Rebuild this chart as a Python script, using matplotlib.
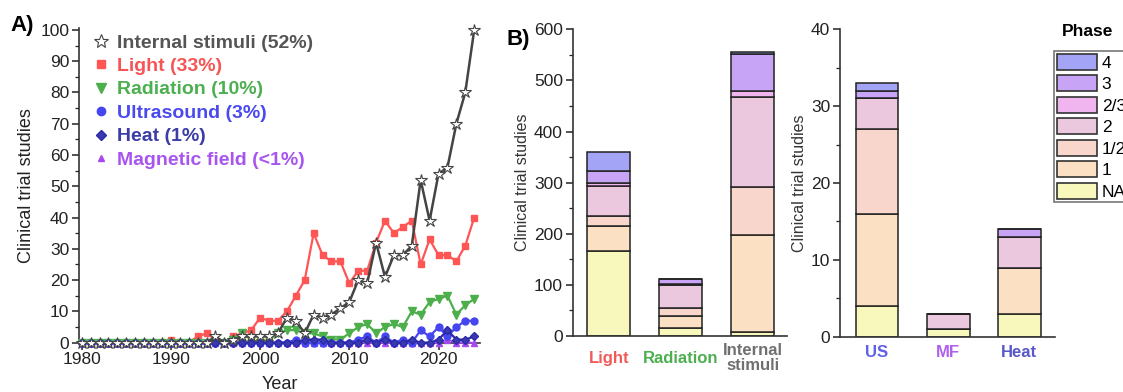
import matplotlib
matplotlib.use("Agg")
import matplotlib.pyplot as plt
from matplotlib.lines import Line2D
from matplotlib.patches import Patch
from matplotlib.ticker import MultipleLocator

plt.rcParams['font.family'] = ['Liberation Sans', 'DejaVu Sans']

# ---------------- data: panel A (yearly counts) ----------------
years = [1980, 1981, 1982, 1983, 1984, 1985, 1986, 1987, 1988, 1989,
         1990, 1991, 1992, 1993, 1994, 1995, 1996, 1997, 1998, 1999,
         2000, 2001, 2002, 2003, 2004, 2005, 2006, 2007, 2008, 2009,
         2010, 2011, 2012, 2013, 2014, 2015, 2016, 2017, 2018, 2019,
         2020, 2021, 2022, 2023, 2024]
internal = [0, 0, 0, 0, 0, 0, 0, 0, 0, 0,
            0, 0, 0, 0, 0, 2, 0, 1, 2, 2,
            2, 2, 3, 8, 7, 3, 9, 8, 9, 11,
            13, 20, 19, 32, 21, 28, 28, 31, 52, 39,
            54, 56, 70, 80, 100]
light = [0, 0, 0, 0, 0, 0, 0, 0, 0, 0,
         1, 0, 0, 2, 3, 1, 0, 2, 3, 4,
         8, 7, 7, 10, 15, 20, 35, 28, 26, 26,
         19, 23, 23, 32, 39, 35, 37, 39, 25, 33,
         28, 28, 26, 31, 40]
radiation = [0, 0, 0, 0, 0, 0, 0, 0, 0, 0,
             0, 0, 0, 0, 0, 0, 0, 1, 3, 1,
             0, 1, 3, 4, 4, 3, 3, 2, 1, 1,
             3, 5, 6, 3, 5, 6, 5, 10, 9, 13,
             14, 15, 9, 12, 14]
ultrasound = [0, 0, 0, 0, 0, 0, 0, 0, 0, 0,
              0, 0, 0, 0, 0, 0, 0, 0, 0, 0,
              0, 0, 0, 0, 1, 0, 0, 0, 0, 0,
              0, 1, 2, 0, 2, 0, 1, 0, 4, 2,
              5, 2, 5, 7, 7]
heat = [0, 0, 0, 0, 0, 0, 0, 0, 0, 0,
        0, 0, 0, 0, 0, 0, 0, 0, 0, 0,
        0, 0, 0, 0, 0, 1, 1, 1, 0, 0,
        0, 0, 1, 0, 1, 0, 0, 1, 0, 0,
        1, 4, 1, 1, 2]
magnetic = [0, 0, 0, 0, 0, 0, 0, 0, 0, 0,
            0, 0, 0, 0, 0, 0, 0, 0, 0, 0,
            0, 0, 0, 0, 0, 0, 0, 0, 0, 0,
            0, 0, 0, 0, 0, 0, 0, 0, 0, 0,
            0, 1, 0, 0, 0]
series_labels = ["Internal stimuli (52%)", "Light (33%)", "Radiation (10%)",
                 "Ultrasound (3%)", "Heat (1%)", "Magnetic field (<1%)"]

# ---------------- data: panel B (phases, stacked) ----------------
phase_labels = ["NA", "1", "1/2", "2", "2/3", "3", "4"]
cats_mid = ["Light", "Radiation", "Internal\nstimuli"]
mid_NA = [167, 16, 7]
mid_P1 = [49, 24, 191]
mid_P12 = [19, 14, 94]
mid_P2 = [59, 45, 176]
mid_P23 = [5, 2, 12]
mid_P3 = [24, 11, 71]
mid_P4 = [36, 0, 5]

cats_right = ["US", "MF", "Heat"]
right_NA = [4, 1, 3]
right_P1 = [12, 0, 6]
right_P12 = [11, 0, 0]
right_P2 = [4, 2, 4]
right_P23 = [0, 0, 0]
right_P3 = [1, 0, 1]
right_P4 = [1, 0, 0]

phase_colors = ["#f8f8bc", "#fce0c4", "#f8d6cc", "#ecc8de", "#f0b4ee", "#c8a4f6", "#a4a4f6"]

W, H = 1123, 392
fig = plt.figure(figsize=(W / 100, H / 100), dpi=100)


def fr(x0, y0, x1, y1):
    return [x0 / W, 1 - y1 / H, (x1 - x0) / W, (y1 - y0) / H]


tick_color = "#222222"
spine_color = "#333333"

# ---------------- Panel A ----------------
axA = fig.add_axes(fr(79, 28, 480, 342.7))
styles = [
    (internal, dict(color="#444444", marker="*", mfc="white", mec="#444444", ms=9, lw=1.8, mew=0.8), "#555555"),
    (light, dict(color="#ff5555", marker="s", mfc="#ff5555", mec="#ff5555", ms=4.5, lw=1.6), "#f55555"),
    (radiation, dict(color="#4caf4c", marker="v", mfc="#4caf4c", mec="#4caf4c", ms=5.5, lw=1.6), "#4caf50"),
    (ultrasound, dict(color="#4646f0", marker="o", mfc="#4646f0", mec="#4646f0", ms=5, lw=1.6), "#4a4af0"),
    (heat, dict(color="#2a2aa8", marker="D", mfc="#3a3ab0", mec="#2a2aa8", ms=4, lw=1.6), "#3c3ca8"),
    (magnetic, dict(color="#a848f0", marker="^", mfc="#a848f0", mec="#a848f0", ms=4, lw=1.4), "#a855f0"),
]
order = [1, 2, 0, 5, 3, 4]
for i in order:
    vals, st, _ = styles[i]
    axA.plot(years, vals, clip_on=False, zorder=3 + (i == 0), **st)

axA.set_xlim(1979.7, 2024.65)
axA.set_ylim(0, 100.6)
axA.xaxis.set_major_locator(MultipleLocator(10))
axA.xaxis.set_minor_locator(MultipleLocator(5))
axA.yaxis.set_major_locator(MultipleLocator(10))
axA.yaxis.set_minor_locator(MultipleLocator(5))
for s in ["top", "right"]:
    axA.spines[s].set_visible(False)
for s in ["left", "bottom"]:
    axA.spines[s].set_color(spine_color)
    axA.spines[s].set_linewidth(1.2)
axA.tick_params(which="major", length=5, width=1.1, labelsize=12.5, colors=tick_color, pad=2)
axA.tick_params(which="minor", length=3, width=0.9, colors=tick_color)
axA.set_ylabel("Clinical trial studies", fontsize=13, color="#222222", labelpad=4)
axA.set_xlabel("Year", fontsize=13, color="#222222", labelpad=6)

handles = []
for vals, st, tc in styles:
    handles.append(Line2D([], [], linestyle="none", marker=st["marker"], mfc=st["mfc"],
                          mec=st["mec"], ms=st["ms"] + 1, mew=st.get("mew", 1.0)))
legA = axA.legend(handles, series_labels, loc="upper left", bbox_to_anchor=(93 / W, 1 - 34 / H),
                  bbox_transform=fig.transFigure, frameon=False,
                  prop=dict(size=14, weight="bold"), handlelength=0.8, handletextpad=0.45,
                  labelspacing=0.3, borderpad=0, borderaxespad=0,
                  labelcolor=[s[2] for s in styles])

fig.text(10 / W, 1 - 25 / H, "A)", fontsize=16, fontweight="bold", va="center", ha="left")
fig.text(506 / W, 1 - 40 / H, "B)", fontsize=16, fontweight="bold", va="center", ha="left")


def stacked(ax, cats, layers, label_colors, ylim, major, minor, pad, va):
    xs = list(range(len(cats)))
    bottom = [0] * len(cats)
    for vals, col in zip(layers, phase_colors):
        ax.bar(xs, vals, width=0.6, bottom=bottom, color=col, edgecolor="#222222",
               linewidth=1.1, zorder=2)
        bottom = [b + v for b, v in zip(bottom, vals)]
    ax.set_ylim(*ylim)
    ax.set_xticks(xs)
    ax.set_xticklabels(cats, fontsize=12, fontweight="bold", linespacing=1.0)
    for lab, c in zip(ax.get_xticklabels(), label_colors):
        lab.set_color(c)
        lab.set_va(va)
    ax.yaxis.set_major_locator(MultipleLocator(major))
    ax.yaxis.set_minor_locator(MultipleLocator(minor))
    for s in ["top", "right"]:
        ax.spines[s].set_visible(False)
    for s in ["left", "bottom"]:
        ax.spines[s].set_color(spine_color)
        ax.spines[s].set_linewidth(1.2)
    ax.tick_params(axis="x", length=0, pad=pad)
    ax.tick_params(axis="y", which="major", length=5, width=1.1, labelsize=12.5, colors=tick_color, pad=2)
    ax.tick_params(axis="y", which="minor", length=3, width=0.9, colors=tick_color)
    ax.set_ylabel("Clinical trial studies", fontsize=11.5, color="#333333", labelpad=3)


axB1 = fig.add_axes(fr(572.7, 29.3, 787, 336))
stacked(axB1, cats_mid, [mid_NA, mid_P1, mid_P12, mid_P2, mid_P23, mid_P3, mid_P4],
        ["#f25a5a", "#4caf50", "#707070"], (0, 600), 100, 50, 16, "center")
axB1.set_xlim(-0.505, 2.48)

axB2 = fig.add_axes(fr(840, 29.3, 1055, 336.7))
stacked(axB2, cats_right, [right_NA, right_P1, right_P12, right_P2, right_P23, right_P3, right_P4],
        ["#6060e8", "#b060f0", "#5858c8"], (0, 40), 10, 5, 6, "top")
axB2.set_xlim(-0.52, 2.5)

# Phase legend (clipped by the figure's right edge, as in the reference)
patches = [Patch(facecolor=c, edgecolor="#333333", linewidth=1.2) for c in phase_colors][::-1]
legB = fig.legend(patches, phase_labels[::-1], loc="upper left",
                  bbox_to_anchor=(1054 / W, 1 - 51 / H), fontsize=12.5,
                  handlelength=2.3, handleheight=1.05, handletextpad=0.3,
                  labelspacing=0.26, borderpad=0.15, borderaxespad=0,
                  frameon=True, fancybox=False, edgecolor="#555555")
legB.get_frame().set_linewidth(1.2)
fig.text(1062 / W, 1 - 32 / H, "Phase", fontsize=12.5, fontweight="bold", va="center", ha="left")

fig.savefig("out.png", dpi=100)
